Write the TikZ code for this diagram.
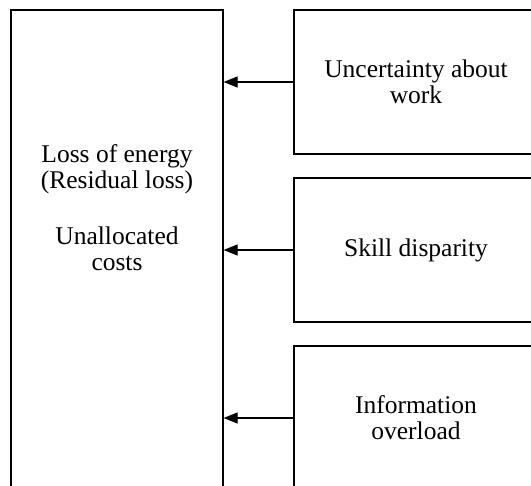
\documentclass[tikz,border=0pt]{standalone}
\usepackage{fontspec}
\setmainfont{Liberation Serif}
\usetikzlibrary{arrows.meta}
\begin{document}
\begin{tikzpicture}[x=1pt,y=-1pt,
    box/.style={draw, line width=1.3pt, inner sep=0pt},
    txt/.style={align=center, font=\fontsize{25.5}{26}\selectfont},
    >={Triangle[length=14pt,width=11pt]}]
            \useasboundingbox (0,0) rectangle (531,486);
            \clip (0,0) rectangle (531,486);
            \node [box, minimum width=212pt, minimum height=480pt] (L) at (117,250) {};
            \node [txt] (Ltext) at (117,208) {Loss of energy\\(Residual loss)\\[30pt]Unallocated\\costs};
            \node [box, txt, minimum width=244pt, minimum height=144pt] (A) at (416,82) {Uncertainty about\\work};
            \node [box, txt, minimum width=244pt, minimum height=144pt] (B) at (416,250) {Skill disparity};
            \node [box, txt, minimum width=244pt, minimum height=144pt] (C) at (416,418) {Information\\overload};
            \draw [->, line width=1.3pt] (A.west) -- (A.west -| L.east);
            \draw [->, line width=1.3pt] (B.west) -- (B.west -| L.east);
            \draw [->, line width=1.3pt] (C.west) -- (C.west -| L.east);
        \end{tikzpicture}
\end{document}
